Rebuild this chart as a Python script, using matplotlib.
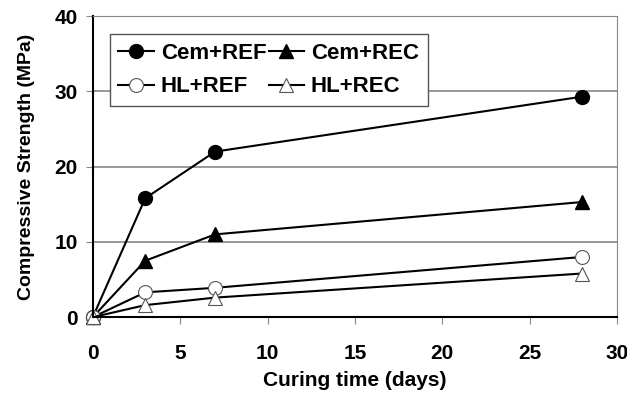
import matplotlib.pyplot as plt

plt.rc('font', family='Liberation Sans', weight='bold')

days = [0, 3, 7, 28]
cem_ref = [0, 15.8, 22.0, 29.3]
cem_rec = [0, 7.5, 11.0, 15.3]
hl_ref = [0, 3.3, 3.9, 8.0]
hl_rec = [0, 1.6, 2.6, 5.8]

fig = plt.figure(figsize=(6.27, 3.94), dpi=100)
ax = fig.add_axes([0.148, 0.195, 0.836, 0.764])

ax.grid(axis='y', color='#888888', lw=1.2)
ax.set_axisbelow(True)

l1, = ax.plot(days, cem_ref, color='black', lw=1.5, marker='o', ms=10, mfc='black', mec='black', label='Cem+REF', clip_on=False)
l2, = ax.plot(days, cem_rec, color='black', lw=1.5, marker='^', ms=10, mfc='black', mec='black', label='Cem+REC', clip_on=False)
l3, = ax.plot(days, hl_ref, color='black', lw=1.5, marker='o', ms=10, mfc='white', mec='#555555', mew=0.8, label='HL+REF', clip_on=False)
l4, = ax.plot(days, hl_rec, color='black', lw=1.5, marker='^', ms=10, mfc='white', mec='#555555', mew=0.8, label='HL+REC', clip_on=False)

ax.set_xlim(0, 30)
ax.set_ylim(0, 40)
ax.set_xticks([0, 5, 10, 15, 20, 25, 30])
ax.set_yticks([0, 10, 20, 30, 40])
ax.tick_params(axis='both', labelsize=15, length=5, direction='out', color='#888888')
ax.tick_params(axis='x', pad=14)
ax.tick_params(axis='y', pad=6)
for s in ['top', 'right']:
    ax.spines[s].set_color('#888888')
for s in ['left', 'bottom']:
    ax.spines[s].set_color('black')
    ax.spines[s].set_linewidth(1.5)

ax.set_xlabel('Curing time (days)', fontsize=15, fontweight='bold', labelpad=6)
ax.set_ylabel('Compressive Strength (MPa)', fontsize=14, fontweight='bold', labelpad=14)

leg = ax.legend([l1, l3, l2, l4], ['Cem+REF', 'HL+REF', 'Cem+REC', 'HL+REC'],
                ncol=2, loc='upper left', bbox_to_anchor=(0.032, 0.94), fontsize=16,
                frameon=True, fancybox=False, edgecolor='#555555', framealpha=1,
                handlelength=1.6, handletextpad=0.3, columnspacing=0.1, labelspacing=0.55,
                borderpad=0.4, borderaxespad=0)
leg.get_frame().set_linewidth(1.0)

plt.savefig('out.png')
plt.close()
